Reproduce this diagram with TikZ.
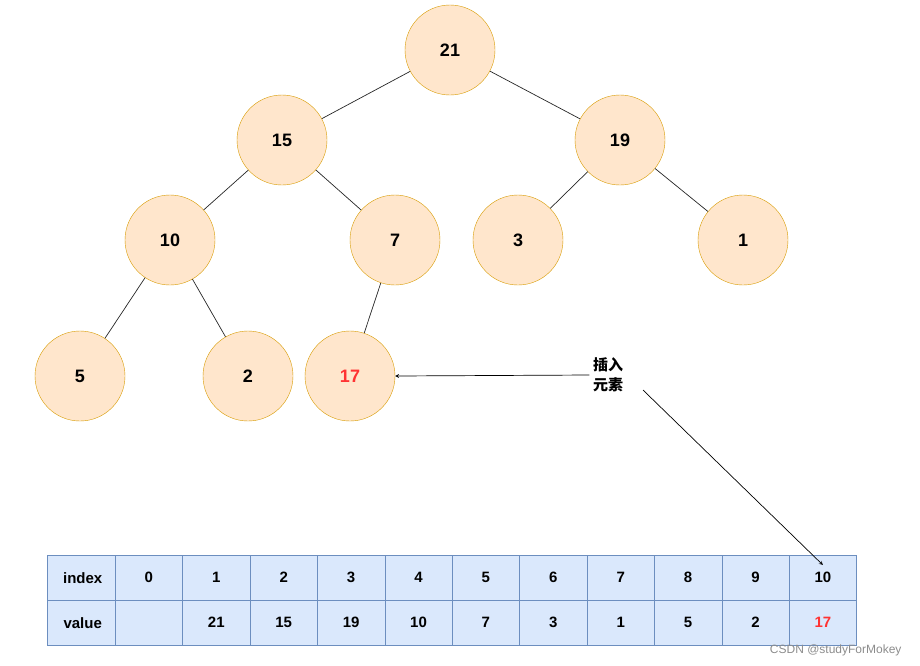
\documentclass[tikz,border=0pt]{standalone}
\usepackage{fontspec}
\setmainfont{Liberation Sans}
\newfontfamily\cjk{Noto Sans CJK SC}
\definecolor{nfill}{HTML}{FFE6CC}
\definecolor{ndraw}{HTML}{D79B00}
\definecolor{tfill}{HTML}{DAE8FC}
\definecolor{tdraw}{HTML}{6C8EBF}
\definecolor{hot}{HTML}{FF3333}
\begin{document}
\begin{tikzpicture}[x=1pt,y=-1pt,
  hnode/.style={circle,fill=nfill,draw=ndraw,minimum size=90pt,inner sep=0pt,font=\fontsize{18}{20}\selectfont\bfseries},
  edge/.style={draw=black!85,line width=0.7pt},
  cell/.style={rectangle,fill=tfill,draw=tdraw,minimum height=45pt,inner sep=0pt,font=\fontsize{15}{18}\selectfont\bfseries},
  arr/.style={-stealth,line width=0.7pt}]
\useasboundingbox (0,0) rectangle (920,665);
\node[hnode] (n21) at (450,50) {21};
\node[hnode] (n15) at (282,140) {15};
\node[hnode] (n19) at (620,140) {19};
\node[hnode] (n10) at (170,240) {10};
\node[hnode] (n7) at (395,240) {7};
\node[hnode] (n3) at (518,240) {3};
\node[hnode] (n1) at (743,240) {1};
\node[hnode] (n5) at (80,376) {5};
\node[hnode] (n2) at (248,376) {2};
\node[hnode,text=hot] (n17) at (350,376) {17};
\draw[edge] (n21)--(n15); \draw[edge] (n21)--(n19);
\draw[edge] (n15)--(n10); \draw[edge] (n15)--(n7);
\draw[edge] (n19)--(n3); \draw[edge] (n19)--(n1);
\draw[edge] (n10)--(n5); \draw[edge] (n10)--(n2);
\draw[edge] (n7)--(n17);
\node[align=center,font=\cjk\bfseries\fontsize{15}{20}\selectfont] (lbl) at (608,375) {插入\\元素};
\coordinate (tail) at (643,390);
\draw[arr] (lbl.west) -- (n17.east);
% table
\node[cell,minimum width=68pt,anchor=north west] (h0) at (47,555) {\hspace*{3pt}index\hfill};
\node[cell,minimum width=68pt,anchor=north west] (v0) at (47,600) {\hspace*{3pt}value\hfill};
\foreach \i/\v in {0/{},1/21,2/15,3/19,4/10,5/7,6/3,7/1,8/5,9/2}{
  \node[cell,minimum width=67.4pt,anchor=north west] (h\i c) at ({115+67.4*\i},555) {\i};
  \node[cell,minimum width=67.4pt,anchor=north west] (v\i c) at ({115+67.4*\i},600) {\v};
}
\node[cell,minimum width=67.4pt,anchor=north west] (h10c) at ({115+67.4*10},555) {10};
\node[cell,minimum width=67.4pt,anchor=north west,text=hot] (v10c) at ({115+67.4*10},600) {17};
\draw[arr] (tail) -- ([yshift=-10pt]h10c.north);
\node[anchor=south east,text=black!45,font=\fontsize{12}{14}\selectfont] (wm) at (905,660) {CSDN @studyForMokey};
\end{tikzpicture}
\end{document}
